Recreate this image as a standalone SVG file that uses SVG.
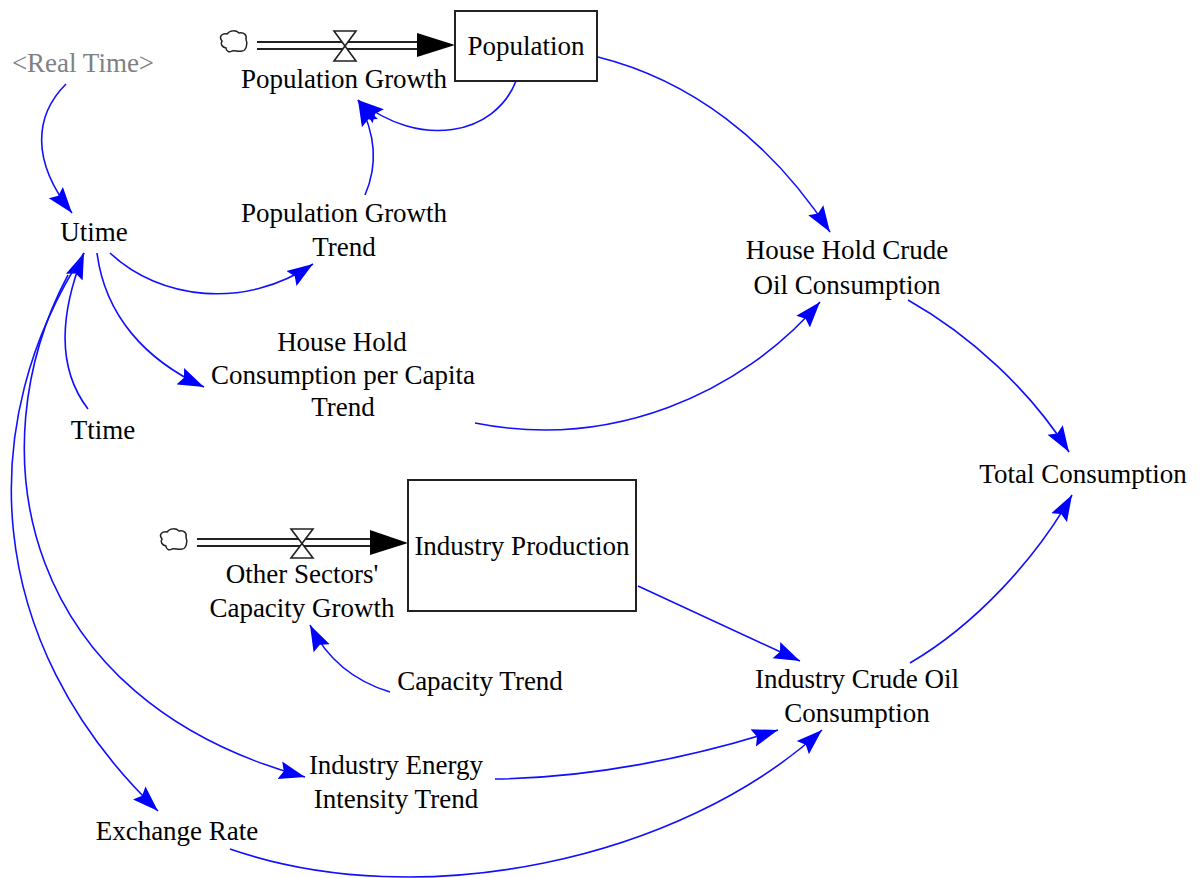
<svg xmlns="http://www.w3.org/2000/svg" width="1200" height="878" viewBox="0 0 1200 878">
<style>
text{font-family:"Liberation Serif","Times New Roman",serif;font-size:27px;fill:#000;text-anchor:middle}
.shadow{fill:#808080}
.link{fill:none;stroke:#1010ff;stroke-width:1.6;marker-end:url(#a)}
.stock{fill:#fff;stroke:#222;stroke-width:2}
.pipe{stroke:#222;stroke-width:2;fill:none}
.valve{fill:#fff;stroke:#222;stroke-width:1.6}
.cloud{fill:#fff;stroke:#222;stroke-width:1.5}
</style>
<defs>
<marker id="a" viewBox="0 0 26 20" refX="26" refY="10" markerWidth="26" markerHeight="20" markerUnits="userSpaceOnUse" orient="auto"><path d="M0 1L26 10L0 19L4 10Z" fill="#0000ff"/></marker>
<symbol id="c" overflow="visible"><path class="cloud" d="M2 10C-2 5 3 2 7 3C10-1 16-1 19 2C24 1 27 4 26 8C28 13 26 20 22 20C18 21 15 19 12 20C9 22 6 20 6 17C2 16 0 13 2 10Z"/></symbol>
</defs>
<g id="connectors">
<path class="link" d="M66 84C35 115 30 160 72 213"/>
<path class="link" d="M516 81C495 135 420 150 358 100"/>
<path class="link" d="M365 195C378 165 376 135 358 100"/>
<path class="link" d="M110 253C160 300 245 310 313 264"/>
<path class="link" d="M97 253C105 315 145 360 204 387"/>
<path class="link" d="M88 409C62 375 55 325 84 253"/>
<path class="link" d="M68 275C-25 450 20 700 305 777"/>
<path class="link" d="M84 253C-25 420 -20 640 158 811"/>
<path class="link" d="M598 57C690 80 770 140 830 232"/>
<path class="link" d="M908 300C970 335 1030 390 1069 452"/>
<path class="link" d="M475 423C610 450 740 395 820 302"/>
<path class="link" d="M638 586L800 661"/>
<path class="link" d="M910 663C975 625 1035 560 1072 495"/>
<path class="link" d="M495 779C590 778 690 758 778 730"/>
<path class="link" d="M230 849C420 915 680 860 822 730"/>
<path class="link" d="M390 692C350 680 325 655 310 625"/>
</g>
<g id="population-flow">
<use href="#c" x="220" y="31"/>
<path class="pipe" d="M257 42H420M257 49H420"/>
<path d="M417 33L455 45L417 57Z" fill="#000"/>
<path class="valve" d="M334 31H356L334 61H356Z"/>
<text x="344" y="88">Population Growth</text>
</g>
<g id="population"><rect class="stock" x="455" y="11" width="142" height="70"/><text x="526" y="55">Population</text></g>
<g id="real-time"><text class="shadow" x="83" y="72">&lt;Real Time&gt;</text></g>
<g id="utime"><text x="94" y="241">Utime</text></g>
<g id="ttime"><text x="103" y="439">Ttime</text></g>
<g id="population-growth-trend"><text x="344" y="222">Population Growth</text><text x="344" y="256">Trend</text></g>
<g id="house-hold-per-capita"><text x="342" y="351">House Hold</text><text x="343" y="384">Consumption per Capita</text><text x="343" y="416">Trend</text></g>
<g id="house-hold-crude"><text x="847" y="259">House Hold Crude</text><text x="847" y="294">Oil Consumption</text></g>
<g id="total-consumption"><text x="1083" y="483">Total Consumption</text></g>
<g id="industry-flow">
<use href="#c" x="160" y="529"/>
<path class="pipe" d="M197 539H372M197 546H372"/>
<path d="M370 530L408 543L370 555Z" fill="#000"/>
<path class="valve" d="M291 529H313L291 558H313Z"/>
<text x="302" y="583">Other Sectors'</text><text x="302" y="617">Capacity Growth</text>
</g>
<g id="industry-production"><rect class="stock" x="408" y="480" width="228" height="131"/><text x="522" y="555">Industry Production</text></g>
<g id="capacity-trend"><text x="480" y="690">Capacity Trend</text></g>
<g id="industry-crude"><text x="857" y="688">Industry Crude Oil</text><text x="857" y="722">Consumption</text></g>
<g id="industry-energy"><text x="396" y="774">Industry Energy</text><text x="396" y="808">Intensity Trend</text></g>
<g id="exchange-rate"><text x="177" y="840">Exchange Rate</text></g>
</svg>
